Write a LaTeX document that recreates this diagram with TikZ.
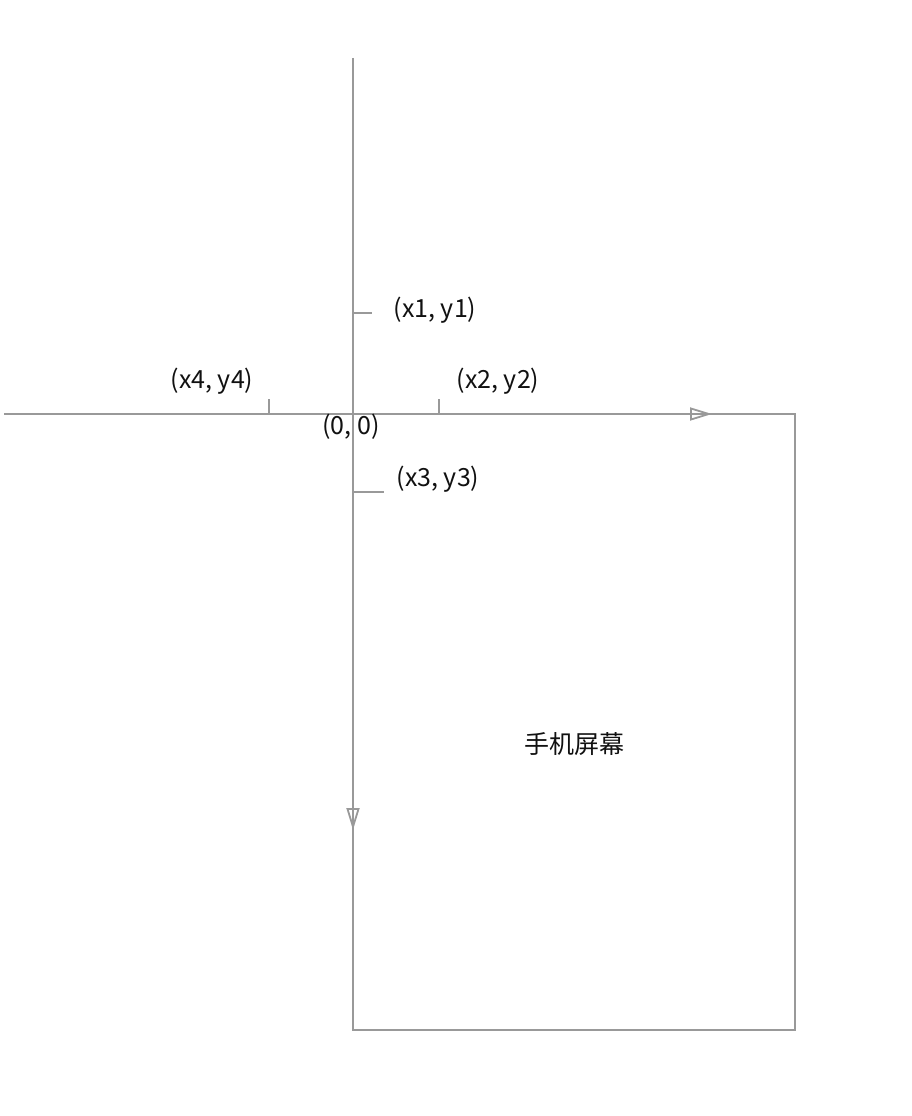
\documentclass[tikz,border=0pt]{standalone}
\usepackage{fontspec}
\setmainfont{Noto Sans CJK SC}
\usetikzlibrary{arrows.meta}
\definecolor{axisgray}{HTML}{999999}
\definecolor{txt}{HTML}{111111}
\begin{document}
\begin{tikzpicture}[x=1pt,y=-1pt,
  axis/.style={draw=axisgray,line width=1.8pt},
  arrowline/.style={axis,-{Triangle[open,length=22pt,width=13pt,line width=1.8pt]}},
  lbl/.style={text=txt,font=\fontsize{25}{30}\selectfont,inner sep=0pt}]
\useasboundingbox (0,0) rectangle (912,1116);
% coordinates
\coordinate (xl) at (4,414);
\coordinate (xa) at (712,414);
\coordinate (yt) at (353,58);
\coordinate (ya) at (353,830);
\coordinate (o) at (353,414);
% screen rectangle
\draw[axis] (353,414) rectangle (795,1030);
% axes
\draw[arrowline] (xl) -- (xa);
\draw[arrowline] (yt) -- (ya);
% ticks
\coordinate (t1) at (353,313);
\coordinate (t2) at (439,414);
\coordinate (t3) at (353,492);
\coordinate (t4) at (269,414);
\draw[axis] (t1) -- ++(19,0);
\draw[axis] (t2) -- ++(0,-15);
\draw[axis] (t3) -- ++(31,0);
\draw[axis] (t4) -- ++(0,-15);
% labels
\node[lbl] (l1) at (435,310) {(x1, y1)};
\node[lbl] (l2) at (498,381) {(x2, y2)};
\node[lbl] (l3) at (438,479) {(x3, y3)};
\node[lbl] (l4) at (212,381) {(x4, y4)};
\node[lbl] (l0) at (351,427) {(0, 0)};
\node[lbl] (scr) at (574,744) {手机屏幕};
\end{tikzpicture}
\end{document}
